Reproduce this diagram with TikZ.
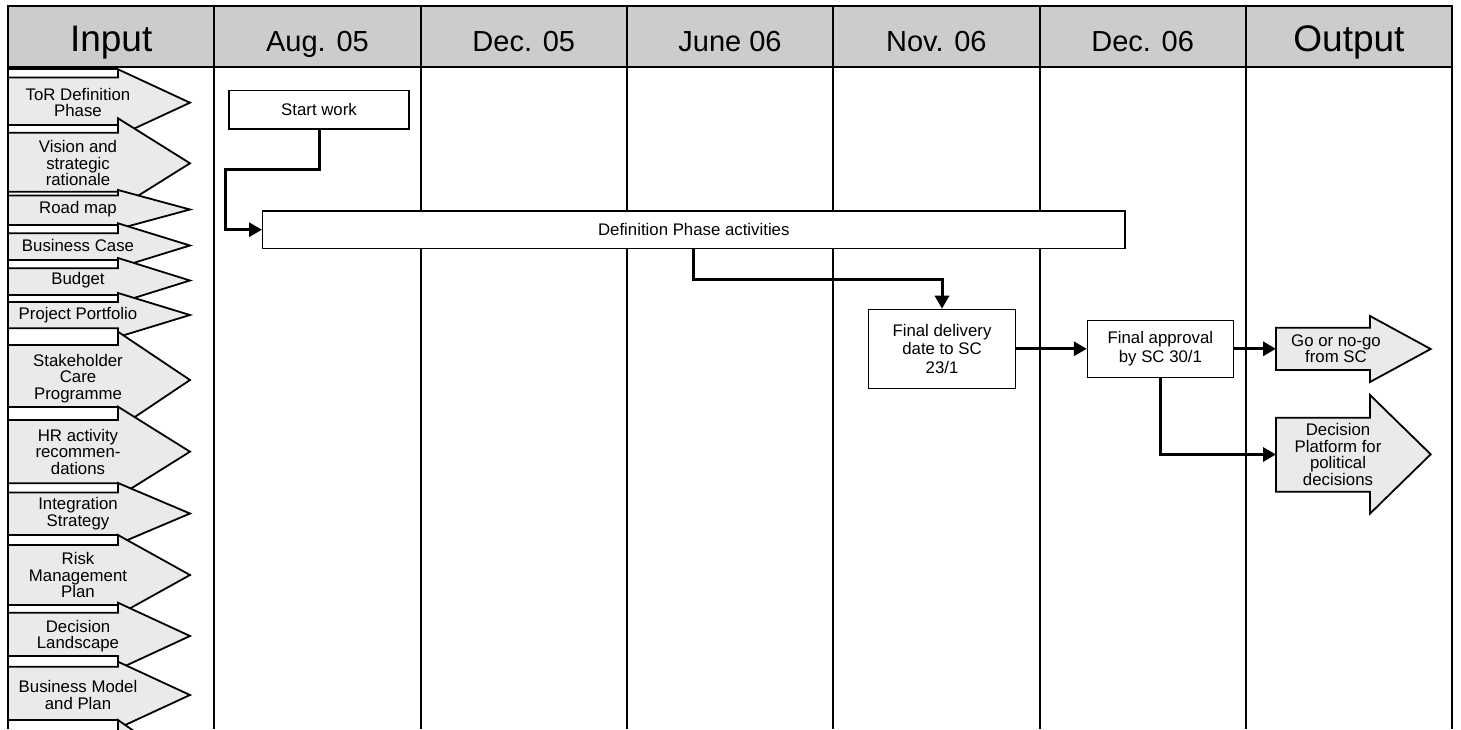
\documentclass[tikz,border=0pt]{standalone}
\usepackage{fontspec}
\setmainfont{Liberation Sans}
\usetikzlibrary{arrows.meta}
\definecolor{hdr}{RGB}{204,204,204}
\definecolor{arw}{RGB}{234,234,234}
\newcommand{\inarrow}[4]{%
  \filldraw[inarrowstyle] (8,#1) -- (118,#1) -- (118,#3) -- (190,#4) -- (118,{2*#4-#3}) -- (118,#2) -- (8,#2) -- cycle;}
\begin{document}
\begin{tikzpicture}[x=1pt,y=-1pt,
  colline/.style={line width=2pt},
  box/.style={draw, fill=white, line width=1.2pt, inner sep=0pt, align=center, font=\fontsize{16.8}{18.5}\selectfont},
  lbl/.style={inner sep=0pt, align=center, font=\fontsize{16.8}{16.5}\selectfont},
  inarrowstyle/.style={fill=arw, draw=black, line width=1.8pt, line join=miter},
  outarrowstyle/.style={fill=arw, draw=black, line width=1.8pt, line join=miter},
  conn/.style={line width=3pt, -{Triangle[length=13pt,width=14pt]}},
  hd/.style={anchor=base, inner sep=0pt, font=\fontsize{29}{30}\selectfont},
  hdbig/.style={anchor=base, inner sep=0pt, font=\fontsize{37}{38}\selectfont}]
\useasboundingbox (0,0) rectangle (1461,729);
\fill[white] (0,0) rectangle (1461,729);
% header
\fill[hdr] (8,6) rectangle (1452,67);
\draw[colline] (8,6) rectangle (1452,67);
\foreach \i in {0,...,7} \draw[colline] ({8+206.3*\i},6) -- ({8+206.3*\i},729);
\node[hdbig] (hIn) at (111.15,51) {Input};
\node[hd] (h1) at (317.45,51) {Aug. 05};
\node[hd] (h2) at (523.75,51) {Dec. 05};
\node[hd] (h3) at (730.05,51) {June 06};
\node[hd] (h4) at (936.35,51) {Nov. 06};
\node[hd] (h5) at (1142.65,51) {Dec. 06};
\node[hdbig] (hOut) at (1348.95,51) {Output};
% input arrows
\begin{scope}
\clip (0,68) rectangle (1461,729);
\draw[line width=1.8pt] (8,69.3) -- (118,69.3);
\inarrow{77.5}{125}{69.3}{102.7}
\inarrow{132.7}{191.7}{118.3}{163.3}
\inarrow{195.5}{225}{190}{209.5}
\inarrow{233.3}{260}{223.3}{245.5}
\inarrow{268.3}{295}{258}{280.5}
\inarrow{302}{328.3}{293}{315}
\inarrow{345}{407}{331.7}{380}
\inarrow{420}{483.3}{406.7}{451.7}
\inarrow{492.5}{535}{483}{513.5}
\inarrow{545}{605}{535}{575}
\inarrow{612.7}{656}{602.7}{636}
\inarrow{666.7}{720}{661.7}{695}
\inarrow{740}{800}{720}{770}
\end{scope}
\draw[colline] (8,67) -- (8,729);
\node[lbl] (in1) at (78,102.7) {ToR Definition\\Phase};
\node[lbl] (in2) at (78,163.3) {Vision and\\strategic\\rationale};
\node[lbl] (in3) at (78,209.5) {Road map};
\node[lbl] (in4) at (78,245.5) {Business Case};
\node[lbl] (in5) at (78,280.5) {Budget};
\node[lbl] (in6) at (78,315) {Project Portfolio};
\node[lbl] (in7) at (78,378.5) {Stakeholder\\Care\\Programme};
\node[lbl] (in8) at (78,451.7) {HR activity\\recommen-\\dations};
\node[lbl] (in9) at (78,513.5) {Integration\\Strategy};
\node[lbl] (in10) at (78,575) {Risk\\Management\\Plan};
\node[lbl] (in11) at (78,636) {Decision\\Landscape};
\node[lbl] (in12) at (78,695) {Business Model\\and Plan};
% boxes
\node[box, minimum width=180pt, minimum height=38.3pt] (start) at (319,109.9) {Start work};
\node[box, minimum width=862.4pt, minimum height=37.3pt] (def) at (693.8,229.7) {Definition Phase activities};
\node[box, minimum width=146.7pt, minimum height=79pt] (fd) at (942,348.8) {Final delivery\\date to SC\\23/1};
\node[box, minimum width=146pt, minimum height=57.3pt] (fa) at (1160.4,348.8) {Final approval\\by SC 30/1};
% output arrows
\filldraw[outarrowstyle] (1276,327.7) -- (1370,327.7) -- (1370,316) -- (1430.7,349) -- (1370,382) -- (1370,370) -- (1276,370) -- cycle;
\node[lbl] (go) at (1336,348.5) {Go or no-go\\from SC};
\coordinate (goL) at (1276,348.8);
\filldraw[outarrowstyle] (1276,417.7) -- (1370,417.7) -- (1370,395) -- (1430.7,454.3) -- (1370,513.6) -- (1370,491.7) -- (1276,491.7) -- cycle;
\node[lbl] (dp) at (1338,454.5) {Decision\\Platform for\\political\\decisions};
\coordinate (dpL) at (1276,454.5);
% connectors
\draw[conn] (start.south) -- ++(0,40) -| ([xshift=-37pt]def.west) -- (def.west);
\draw[conn] (def.south) -- ++(0,31) -| (fd.north);
\draw[conn] (fd.east) -- (fa.west);
\draw[conn] (fa.east) -- (goL);
\draw[conn] (fa.south) |- (dpL);
\end{tikzpicture}
\end{document}
